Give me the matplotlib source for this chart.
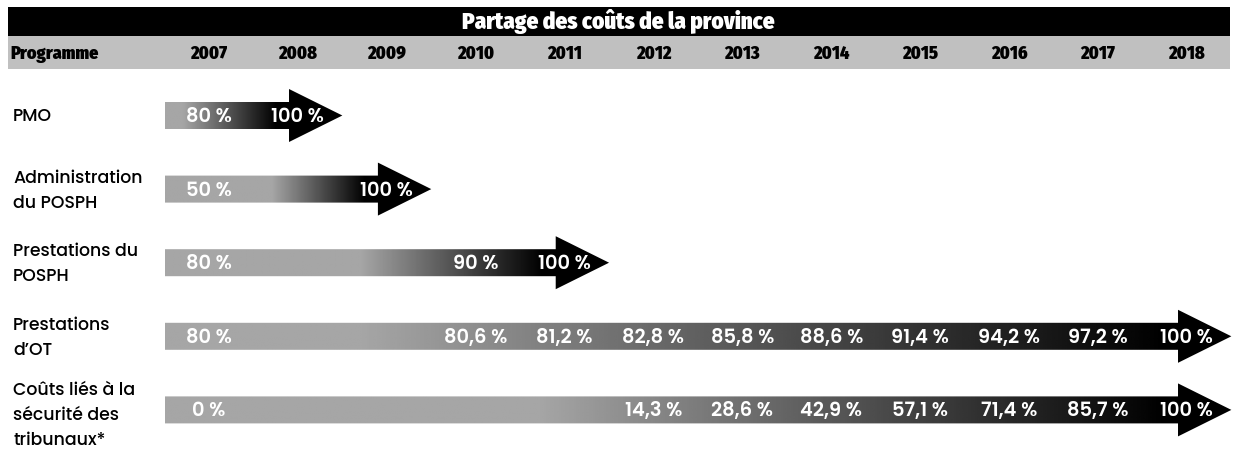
import numpy as np
import matplotlib
matplotlib.use("Agg")
import matplotlib.pyplot as plt
from matplotlib.patches import Polygon, Rectangle
from matplotlib.transforms import blended_transform_factory

# données
title = "Partage des coûts de la province"
years = ["2007", "2008", "2009", "2010", "2011", "2012",
         "2013", "2014", "2015", "2016", "2017", "2018"]
programmes = ["PMO", "Administration\ndu POSPH", "Prestations du\nPOSPH",
              "Prestations\nd’OT", "Coûts liés à la\nsécurité des\ntribunaux*"]

pmo = [80, 100]
admin_posph = [50, None, 100]
prest_posph = [80, None, None, 90, 100]
prest_ot = [80, None, None, 80.6, 81.2, 82.8, 85.8, 88.6, 91.4, 94.2, 97.2, 100]
securite = [0, None, None, None, None, 14.3, 28.6, 42.9, 57.1, 71.4, 85.7, 100]
series = [pmo, admin_posph, prest_posph, prest_ot, securite]

# mise en page (pixels)
W, H = 1236, 456
X0, DX = 209, 88.9        # centre de la colonne 2007, pas entre colonnes
ROW0, ROW_STEP = 116.5, 73.6
BODY, HEAD = 13.5, 26.5
GREY = 0.65

HEAD_FONT = ["Fira Sans Condensed", "DejaVu Sans"]
LABEL_FONT = ["Poppins", "Open Sans", "DejaVu Sans"]


def fmt(v):
    return ("%g" % v).replace(".", ",") + " %"


fig = plt.figure(figsize=(W / 100, H / 100), dpi=100)
ax = fig.add_axes([0, 0, 1, 1])
ax.axis("off")
bt = blended_transform_factory(ax.transAxes, ax.transData)

# bandeaux d'en-tête
ax.add_patch(Rectangle((8 / W, 8), 1222 / W, 29, transform=bt,
                       facecolor="black", edgecolor="none"))
ax.add_patch(Rectangle((8 / W, 37), 1222 / W, 33, transform=bt,
                       facecolor="#c0c0c0", edgecolor="none"))
ax.text(0.5, 22, title, transform=bt, ha="center", va="center", color="white",
        fontsize=16.5, fontweight=900, family=HEAD_FONT)
ax.text(10 / W, 54, "Programme", transform=bt, ha="left", va="center",
        fontsize=13, fontweight=900, family=HEAD_FONT)
for i, y in enumerate(years):
    ax.text(i, 54, y, ha="center", va="center", fontsize=13,
            fontweight=900, family=HEAD_FONT)

for r, (name, vals) in enumerate(zip(programmes, series)):
    yc = ROW0 + ROW_STEP * r
    ax.text(13 / W, yc + (5 if r == 4 else 1), name, transform=bt, ha="left",
            va="center", fontsize=12.5, fontweight=500, family=LABEL_FONT,
            linespacing=1.55)

    end = len(vals) - 1
    idx = [i for i, v in enumerate(vals) if v is not None]
    fs = max(idx[1] - 1.3, -0.5)
    fe = end - 0.25
    pts = [(-0.5, yc - BODY), (end - 0.1, yc - BODY), (end - 0.1, yc - HEAD),
           (end + 0.5, yc), (end - 0.1, yc + HEAD), (end - 0.1, yc + BODY),
           (-0.5, yc + BODY)]
    poly = Polygon(pts, closed=True, facecolor="none", edgecolor="none")
    ax.add_patch(poly)
    xs = np.linspace(-0.5, end + 0.5, 500)
    g = np.interp(xs, [fs, fe], [GREY, 0.0])
    im = ax.imshow(g[None, :], cmap="gray", vmin=0, vmax=1, aspect="auto",
                   extent=[-0.5, end + 0.5, yc + HEAD + 1, yc - HEAD - 1],
                   interpolation="bilinear")
    im.set_clip_path(poly)

    for i in idx:
        ax.text(i, yc + 1, fmt(vals[i]), ha="center", va="center", color="white",
                fontsize=14, fontweight=600, family=LABEL_FONT)

ax.set_xlim(-X0 / DX, (W - X0) / DX)
ax.set_ylim(H, 0)

plt.savefig("out.png", dpi=100)
